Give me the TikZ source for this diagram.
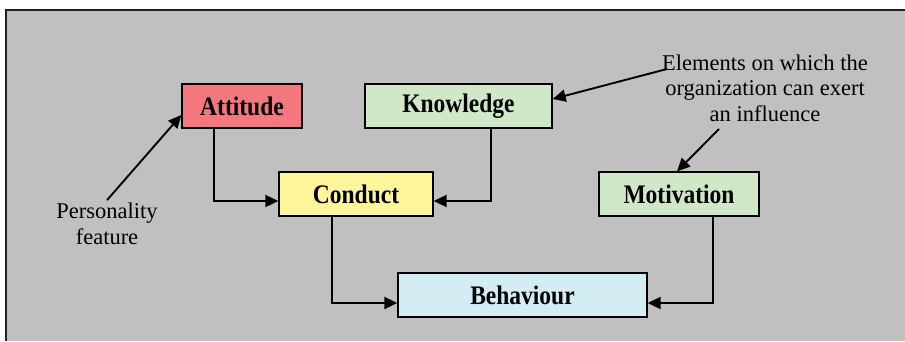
\documentclass[tikz,border=0pt]{standalone}
\usepackage{graphicx}
\usepackage{fontspec}
\setmainfont{Liberation Serif}
\usetikzlibrary{arrows.meta,calc}

\definecolor{panelgray}{HTML}{C0C0C0}
\definecolor{attfill}{HTML}{F4787E}
\definecolor{condfill}{HTML}{FFF59B}
\definecolor{greenfill}{HTML}{D1E8C8}
\definecolor{bluefill}{HTML}{D4EDF5}
\definecolor{framecol}{HTML}{222222}

% box labels are set slightly taller than the font's natural shape
\newcommand\boxlabel[1]{\scalebox{1}[1.14]{#1}}

\tikzset{
  box/.style={draw=black, line width=1.3pt, minimum height=44pt, inner sep=0pt,
    font=\fontsize{23.5}{26}\selectfont\bfseries},
  note/.style={align=center, inner sep=1pt,
    font=\fontsize{22.5}{25.5}\selectfont},
  arr/.style={line width=1.9pt, -{Triangle[length=13pt,width=12pt]}},
}

\begin{document}
\begin{tikzpicture}[x=1pt,y=-1pt]
  \useasboundingbox (0,0) rectangle (905,341);
  % panel background with top and left rule
  \fill[panelgray] (6,10) rectangle (905,341);
  \draw[framecol, line width=2pt] (6,341) -- (6,10) -- (905,10);

  % boxes
  \node[box, fill=attfill,   minimum width=120pt] (att)  at (242,106)   {\boxlabel{Attitude}};
  \node[box, fill=greenfill, minimum width=187pt] (know) at (458.5,106) {\boxlabel{Knowledge}};
  \node[box, fill=condfill,  minimum width=154pt] (cond) at (356,194)   {\boxlabel{Conduct}};
  \node[box, fill=greenfill, minimum width=160pt] (mot)  at (679,194)   {\boxlabel{Motivation}};
  \node[box, fill=bluefill,  minimum width=249pt] (beh)  at (522.5,295) {\boxlabel{Behaviour}};

  % side notes
  \node[note] (pers) at (107,224) {Personality\\feature};
  \node[note] (elem) at (765,88) {Elements on which the\\organization can exert\\an influence};
  \coordinate (e1) at (667,69);
  \coordinate (e2) at (719,129);

  % connectors
  \draw[arr] ([xshift=33pt]att.south west) |- ([yshift=-7pt]cond.west);
  \draw[arr] ([xshift=-62pt]know.south east) |- ([yshift=-7pt]cond.east);
  \draw[arr] ([xshift=54pt]cond.south west) |- ([yshift=-8pt]beh.west);
  \draw[arr] ([xshift=-47pt]mot.south east) |- ([yshift=-8pt]beh.east);
  \draw[arr] ([yshift=2pt]pers.north) -- ([yshift=-9pt]att.west);
  \draw[arr] (e1) -- ([yshift=7pt]know.east);
  \draw[arr] (e2) -- ([xshift=-2pt]mot.north);
\end{tikzpicture}
\end{document}
